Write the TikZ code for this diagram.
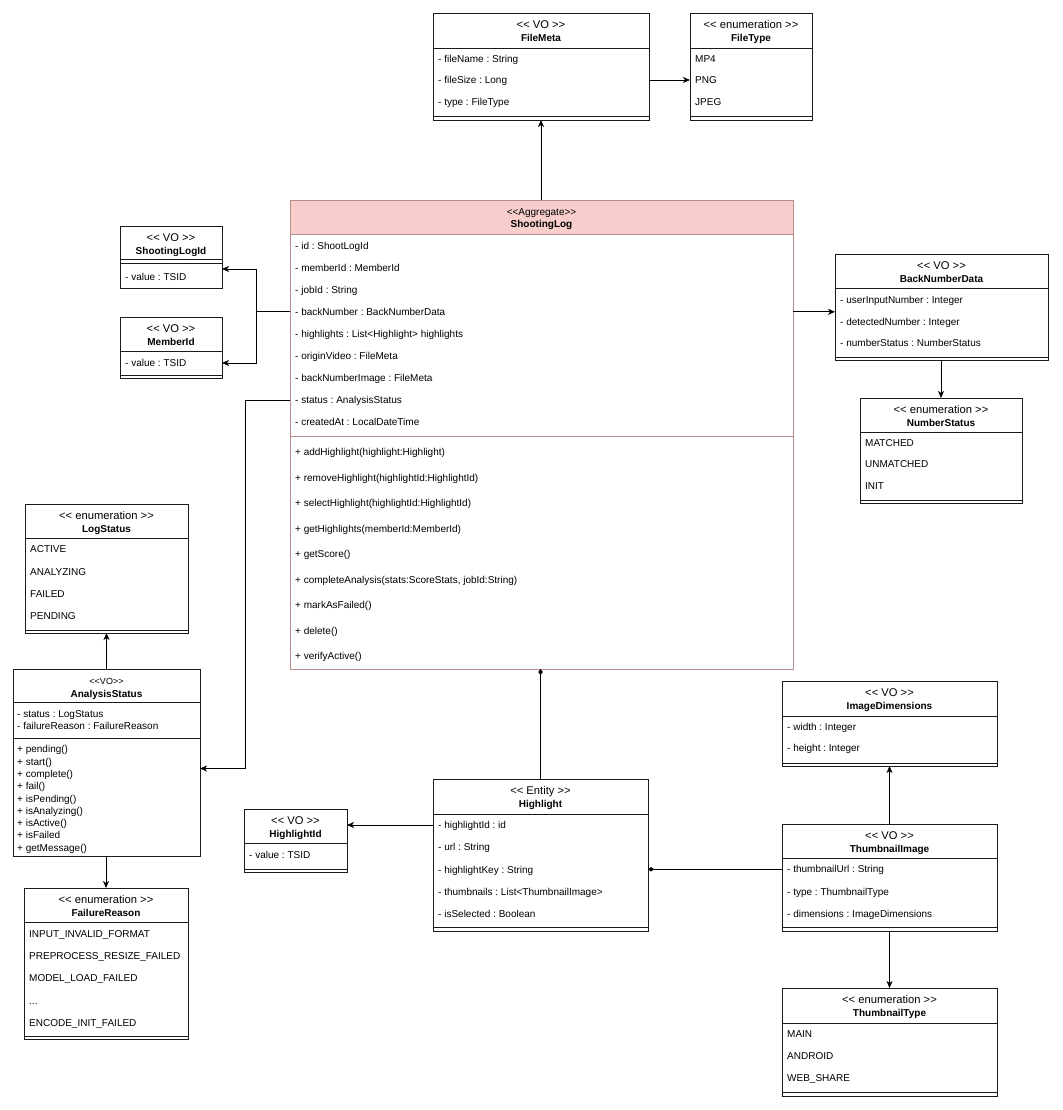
\documentclass[tikz,border=0pt]{standalone}
\usepackage{fontspec}
\newfontfamily\umlf{Liberation Sans}
\usetikzlibrary{arrows.meta,calc}
\definecolor{slred}{HTML}{B88A8A}
\definecolor{slpink}{HTML}{F8CECC}
\definecolor{ln}{HTML}{1A1A1A}
\frenchspacing
% id, left, top, right, bottom, header bottom, stereotype, name
\newcommand\umlcls[8]{%
  \node[box, minimum width={#4-#2}, minimum height={#5-#3}, anchor=north west] (#1) at (#2,#3) {};
  \draw[sepl] (#2,#6) -- (#4,#6);
  \node[stereo] (#1-s) at ({(#2+#4)/2},#3+12) {#7};
  \node[cname] (#1-n) at ({(#2+#4)/2},#3+25) {#8};
}
\begin{document}
\frenchspacing
\begin{tikzpicture}[x=1pt,y=-1pt,
  box/.style={draw=ln, line width=0.8pt, inner sep=0pt, outer sep=0pt},
  sepl/.style={draw=ln, line width=0.8pt},
  attr/.style={anchor=west, inner sep=0pt, text height=8pt, text depth=1pt, font=\umlf\frenchspacing\fontsize{10}{12}\selectfont},
  stereo/.style={inner sep=0pt, text height=8.5pt, text depth=1pt, font=\umlf\fontsize{11.2}{13}\selectfont},
  cname/.style={inner sep=0pt, text height=7.5pt, text depth=1pt, font=\umlf\bfseries\fontsize{10}{12}\selectfont},
  arr/.style={draw=black, line width=0.8pt, -{Stealth[length=7pt,width=6pt,inset=2pt]}},
  comp/.style={draw=black, line width=0.8pt, {Diamond[length=6pt,width=4.5pt]}-}]
\fill[white] (0,0) rectangle (1062,1110);
\useasboundingbox (0,0) rectangle (1062,1110);

% FileMeta
\umlcls{fm}{433}{13}{649}{120}{48}{<< VO >>}{FileMeta}
\node[attr] (fm-a1) at (438,59) {- fileName : String};
\node[attr] (fm-a2) at (438,80) {- fileSize : Long};
\node[attr] (fm-a3) at (438,102) {- type : FileType};
\draw[sepl] (433,116) -- (649,116);

% FileType
\umlcls{ft}{690}{13}{812}{120}{48}{<< enumeration >>}{FileType}
\node[attr] (ft-a1) at (695,59) {MP4};
\node[attr] (ft-a2) at (695,80) {PNG};
\node[attr] (ft-a3) at (695,102) {JPEG};
\draw[sepl] (690,116) -- (812,116);

% ShootingLog
\fill[slpink] (290,200) rectangle (793,234);
\node[box, draw=slred, line width=0.7pt, minimum width=503pt, minimum height=469pt, anchor=north west] (sl) at (290,200) {};
\draw[draw=slred, line width=0.7pt] (290,234) -- (793,234);
\draw[draw=slred, line width=0.7pt] (290,436) -- (793,436);
\node[stereo, font=\umlf\fontsize{10}{12}\selectfont] (sl-s) at (541.5,212) {<<Aggregate>>};
\node[cname] (sl-n) at (541.5,224) {ShootingLog};
\node[attr] (sl-a1) at (295,245.5) {- id : ShootLogId};
\node[attr] (sl-a2) at (295,267.6) {- memberId : MemberId};
\node[attr] (sl-a3) at (295,289.7) {- jobId : String};
\node[attr] (sl-a4) at (295,311.8) {- backNumber : BackNumberData};
\node[attr] (sl-a5) at (295,333.9) {- highlights : List<Highlight> highlights};
\node[attr] (sl-a6) at (295,356.0) {- originVideo : FileMeta};
\node[attr] (sl-a7) at (295,378.1) {- backNumberImage : FileMeta};
\node[attr] (sl-a8) at (295,400.2) {- status : AnalysisStatus};
\node[attr] (sl-a9) at (295,422.3) {- createdAt : LocalDateTime};
\node[attr] (sl-m1) at (295,452) {+ addHighlight(highlight:Highlight)};
\node[attr] (sl-m2) at (295,477.5) {+ removeHighlight(highlightId:HighlightId)};
\node[attr] (sl-m3) at (295,503) {+ selectHighlight(highlightId:HighlightId)};
\node[attr] (sl-m4) at (295,528.5) {+ getHighlights(memberId:MemberId)};
\node[attr] (sl-m5) at (295,554) {+ getScore()};
\node[attr] (sl-m6) at (295,579.5) {+ completeAnalysis(stats:ScoreStats, jobId:String)};
\node[attr] (sl-m7) at (295,605) {+ markAsFailed()};
\node[attr] (sl-m8) at (295,630.5) {+ delete()};
\node[attr] (sl-m9) at (295,656) {+ verifyActive()};

% ShootingLogId
\umlcls{sli}{120}{226}{222}{288}{259}{<< VO >>}{ShootingLogId}
\draw[sepl] (120,263) -- (222,263);
\node[attr] (sli-v) at (125,277) {- value : TSID};

% MemberId
\umlcls{mi}{120}{317}{222}{378}{351}{<< VO >>}{MemberId}
\node[attr] (mi-v) at (125,363) {- value : TSID};
\draw[sepl] (120,375) -- (222,375);

% BackNumberData
\umlcls{bnd}{835}{254}{1048}{360}{288}{<< VO >>}{BackNumberData}
\node[attr] (bnd-a1) at (840,300) {- userInputNumber : Integer};
\node[attr] (bnd-a2) at (840,321.5) {- detectedNumber : Integer};
\node[attr] (bnd-a3) at (840,343) {- numberStatus : NumberStatus};
\draw[sepl] (835,357) -- (1048,357);

% NumberStatus
\umlcls{ns}{860}{398}{1022}{503}{432.5}{<< enumeration >>}{NumberStatus}
\node[attr] (ns-a1) at (865,442.5) {MATCHED};
\node[attr] (ns-a2) at (865,464) {UNMATCHED};
\node[attr] (ns-a3) at (865,486) {INIT};
\draw[sepl] (860,500) -- (1022,500);

% LogStatus
\umlcls{ls}{25}{504}{188}{633}{538}{<< enumeration >>}{LogStatus}
\node[attr] (ls-a1) at (30,549.3) {ACTIVE};
\node[attr] (ls-a2) at (30,571.5) {ANALYZING};
\node[attr] (ls-a3) at (30,594) {FAILED};
\node[attr] (ls-a4) at (30,616.3) {PENDING};
\draw[sepl] (25,630) -- (188,630);

% AnalysisStatus
\umlcls{as}{13}{669}{200}{856}{702}{\fontsize{9}{11}\selectfont <<VO>>}{AnalysisStatus}
\draw[sepl] (13,738) -- (200,738);
\node[attr] (as-a1) at (17,713.5) {- status : LogStatus};
\node[attr] (as-a2) at (17,725.7) {- failureReason : FailureReason};
\node[attr] (as-m1) at (17,749.3) {+ pending()};
\node[attr] (as-m2) at (17,761.6) {+ start()};
\node[attr] (as-m3) at (17,773.9) {+ complete()};
\node[attr] (as-m4) at (17,786.2) {+ fail()};
\node[attr] (as-m5) at (17,798.5) {+ isPending()};
\node[attr] (as-m6) at (17,810.8) {+ isAnalyzing()};
\node[attr] (as-m7) at (17,823.1) {+ isActive()};
\node[attr] (as-m8) at (17,835.4) {+ isFailed};
\node[attr] (as-m9) at (17,847.7) {+ getMessage()};

% FailureReason
\umlcls{fr}{24}{888}{188}{1039}{922}{<< enumeration >>}{FailureReason}
\node[attr] (fr-a1) at (29,934) {INPUT\_INVALID\_FORMAT};
\node[attr] (fr-a2) at (29,956) {PREPROCESS\_RESIZE\_FAILED};
\node[attr] (fr-a3) at (29,978.3) {MODEL\_LOAD\_FAILED};
\node[attr] (fr-a4) at (29,1000.5) {...};
\node[attr] (fr-a5) at (29,1022.7) {ENCODE\_INIT\_FAILED};
\draw[sepl] (24,1036) -- (188,1036);

% Highlight
\umlcls{hl}{433}{779}{648}{931}{814}{<< Entity >>}{Highlight}
\node[attr] (hl-a1) at (438,825) {- highlightId : id};
\node[attr] (hl-a2) at (438,847.3) {- url : String};
\node[attr] (hl-a3) at (438,869.5) {- highlightKey : String};
\node[attr] (hl-a4) at (438,891.7) {- thumbnails : List<ThumbnailImage>};
\node[attr] (hl-a5) at (438,913.5) {- isSelected : Boolean};
\draw[sepl] (433,927) -- (648,927);

% HighlightId
\umlcls{hid}{244}{809}{347}{872}{843}{<< VO >>}{HighlightId}
\node[attr] (hid-v) at (249,855) {- value : TSID};
\draw[sepl] (244,869) -- (347,869);

% ImageDimensions
\umlcls{idim}{782}{681}{997}{766}{716}{<< VO >>}{ImageDimensions}
\node[attr] (idim-a1) at (787,726.7) {- width : Integer};
\node[attr] (idim-a2) at (787,748.3) {- height : Integer};
\draw[sepl] (782,763) -- (997,763);

% ThumbnailImage
\umlcls{ti}{782}{824}{997}{931}{858}{<< VO >>}{ThumbnailImage}
\node[attr] (ti-a1) at (787,869.3) {- thumbnailUrl : String};
\node[attr] (ti-a2) at (787,891.7) {- type : ThumbnailType};
\node[attr] (ti-a3) at (787,914) {- dimensions : ImageDimensions};
\draw[sepl] (782,927) -- (997,927);

% ThumbnailType
\umlcls{tt}{782}{988}{997}{1096}{1023}{<< enumeration >>}{ThumbnailType}
\node[attr] (tt-a1) at (787,1034.3) {MAIN};
\node[attr] (tt-a2) at (787,1056) {ANDROID};
\node[attr] (tt-a3) at (787,1078.3) {WEB\_SHARE};
\draw[sepl] (782,1092) -- (997,1092);

% connectors
\draw[arr] (sl.north -| fm.south) -- (fm.south);
\draw[arr] (fm-a2 -| fm.east) -- (fm-a2 -| ft.west);
\coordinate (fork) at (256,311.8);
\coordinate (sliin) at ($(sli.east)+(0,12)$);
\draw[arr] (sl-a4 -| sl.west) -- (fork) |- (sliin);
\draw[arr] (fork) |- (mi-v -| mi.east);
\coordinate (asbend) at (245,400.2);
\coordinate (asin) at ($(as.east)+(0,6)$);
\draw[arr] (sl-a8 -| sl.west) -- (asbend) |- (asin);
\draw[arr] (sl-a4 -| sl.east) -- (sl-a4 -| bnd.west);
\draw[arr] (bnd.south -| ns.north) -- (ns.north);
\draw[arr] (as.north) -- (as.north |- ls.south);
\draw[arr] (as.south -| fr.north) -- (fr.north);
\draw[comp] (hl.north |- sl.south) -- (hl.north);
\draw[arr] (hl-a1 -| hl.west) -- (hl-a1 -| hid.east);
\draw[comp] (ti-a1 -| hl.east) -- (ti-a1 -| ti.west);
\draw[arr] (ti.north) -- (ti.north |- idim.south);
\draw[arr] (ti.south) -- (ti.south |- tt.north);
\end{tikzpicture}
\end{document}
